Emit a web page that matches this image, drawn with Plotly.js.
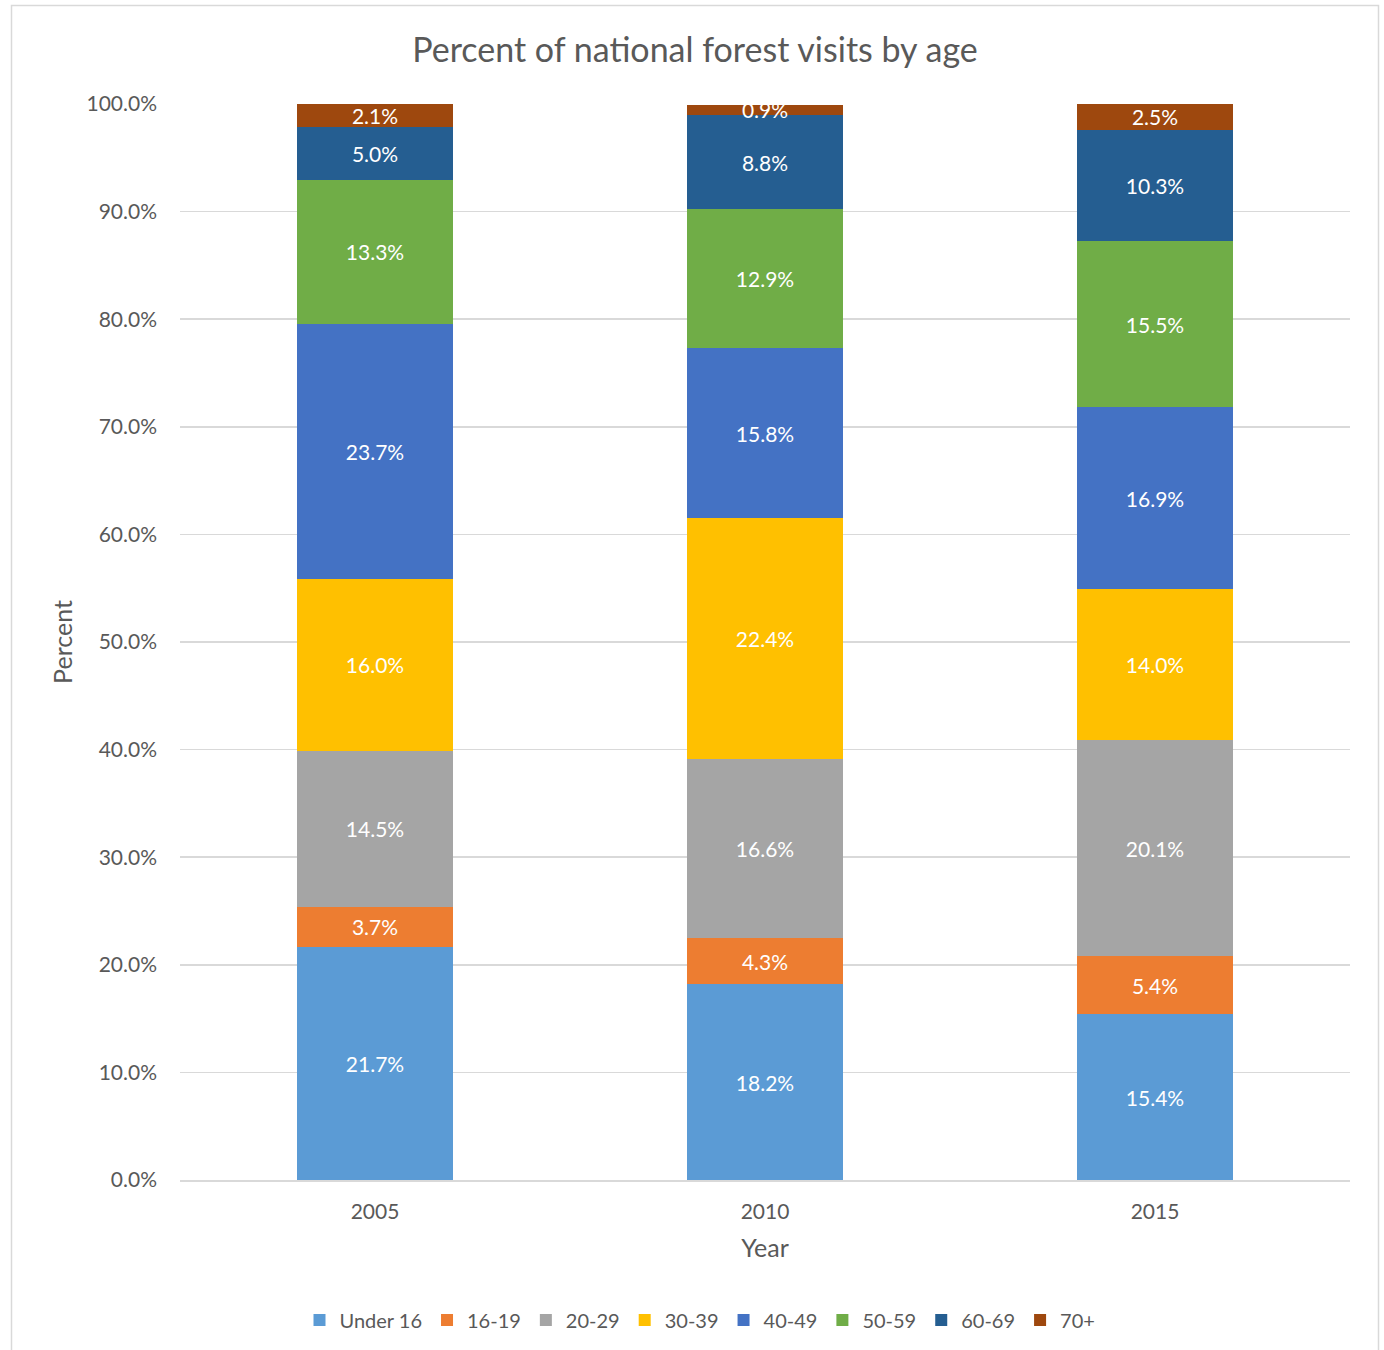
<!DOCTYPE html>
<html>
<head>
<meta charset="utf-8">
<script src="https://cdn.plot.ly/plotly-3.0.1.min.js"></script>
<style>
  html, body { margin: 0; padding: 0; background: #ffffff; }
  #chart { width: 1384px; height: 1350px; }
</style>
</head>
<body>
<div id="chart"></div>
<script>
// Survey years on the category axis
const years = ['2005', '2010', '2015'];

// Age groups, bottom of the stack first
const ageGroups = ['Under 16', '16-19', '20-29', '30-39', '40-49', '50-59', '60-69', '70+'];

// Share of visits (%) per age group, one value per year
const under16 = [21.7, 18.2, 15.4];
const age16to19 = [3.7, 4.3, 5.4];
const age20to29 = [14.5, 16.6, 20.1];
const age30to39 = [16.0, 22.4, 14.0];
const age40to49 = [23.7, 15.8, 16.9];
const age50to59 = [13.3, 12.9, 15.5];
const age60to69 = [5.0, 8.8, 10.3];
const age70plus = [2.1, 0.9, 2.5];

const seriesValues = [under16, age16to19, age20to29, age30to39, age40to49, age50to59, age60to69, age70plus];
const seriesColors = ['#5B9BD5', '#ED7D31', '#A5A5A5', '#FFC000', '#4472C4', '#70AD47', '#255E91', '#9E480E'];

const FONT = 'Lato, "Open Sans", sans-serif';
const TEXT_GREY = '#595959';
const GRID_GREY = '#d9d9d9';

const traces = ageGroups.map((name, i) => ({
  type: 'bar',
  name: name,
  x: years,
  y: seriesValues[i],
  marker: { color: seriesColors[i], line: { width: 0 } },
  texttemplate: '%{y:.1f}%',
  textposition: 'inside',
  insidetextanchor: 'middle',
  textangle: 0,
  textfont: { family: FONT, size: 21, color: '#ffffff' },
  hoverinfo: 'x+y+name'
}));

// Margins define the plotting rectangle
const L = 180, R = 34, T = 104, B = 170, W = 1384, H = 1350;
const pw = W - L - R, ph = H - T - B;
const px = v => (v - L) / pw;          // pixel -> paper x
const py = v => 1 - (v - T) / ph;      // pixel -> paper y

const layout = {
  width: W,
  height: H,
  margin: { l: L, r: R, t: T, b: B, pad: 0 },
  paper_bgcolor: '#ffffff',
  plot_bgcolor: '#ffffff',
  barmode: 'stack',
  bargap: 0.6,
  font: { family: FONT, color: TEXT_GREY },
  uniformtext: { mode: 'show', minsize: 21 },
  title: {
    text: 'Percent of national forest visits by age',
    font: { family: FONT, size: 34, color: TEXT_GREY },
    x: 695 / W,
    xref: 'container',
    xanchor: 'center',
    y: 1 - 50 / H,
    yref: 'container',
    yanchor: 'middle'
  },
  xaxis: {
    type: 'category',
    showgrid: false,
    showline: true,
    linecolor: GRID_GREY,
    linewidth: 1.5,
    ticks: '',
    tickfont: { family: FONT, size: 21, color: TEXT_GREY },
    ticklabelstandoff: 12,
    title: {
      text: 'Year',
      font: { family: FONT, size: 25, color: TEXT_GREY },
      standoff: 18
    },
    fixedrange: true
  },
  yaxis: {
    range: [0, 100],
    dtick: 10,
    tick0: 0,
    tickformat: '.1f',
    ticksuffix: '%',
    showgrid: true,
    gridcolor: GRID_GREY,
    gridwidth: 1.5,
    zeroline: false,
    showline: false,
    ticks: '',
    tickfont: { family: FONT, size: 21, color: TEXT_GREY },
    ticklabelstandoff: 22,
    title: {
      text: 'Percent',
      font: { family: FONT, size: 25, color: TEXT_GREY },
      standoff: 6
    },
    fixedrange: true
  },
  showlegend: true,
  legend: {
    orientation: 'h',
    x: 700 / W,
    xref: 'container',
    xanchor: 'center',
    y: 1 - 1320 / H,
    yref: 'container',
    yanchor: 'middle',
    font: { family: FONT, size: 20, color: TEXT_GREY },
    itemwidth: 30,
    tracegroupgap: 0,
    traceorder: 'normal'
  },
  shapes: [{
    type: 'rect',
    xref: 'paper', yref: 'paper',
    x0: px(11.5), x1: px(1378.5),
    y0: py(1360), y1: py(5.5),
    line: { color: GRID_GREY, width: 1.5 },
    fillcolor: 'rgba(0,0,0,0)',
    layer: 'below'
  }]
};

Plotly.newPlot('chart', traces, layout, { displayModeBar: false, staticPlot: true });
</script>
</body>
</html>
